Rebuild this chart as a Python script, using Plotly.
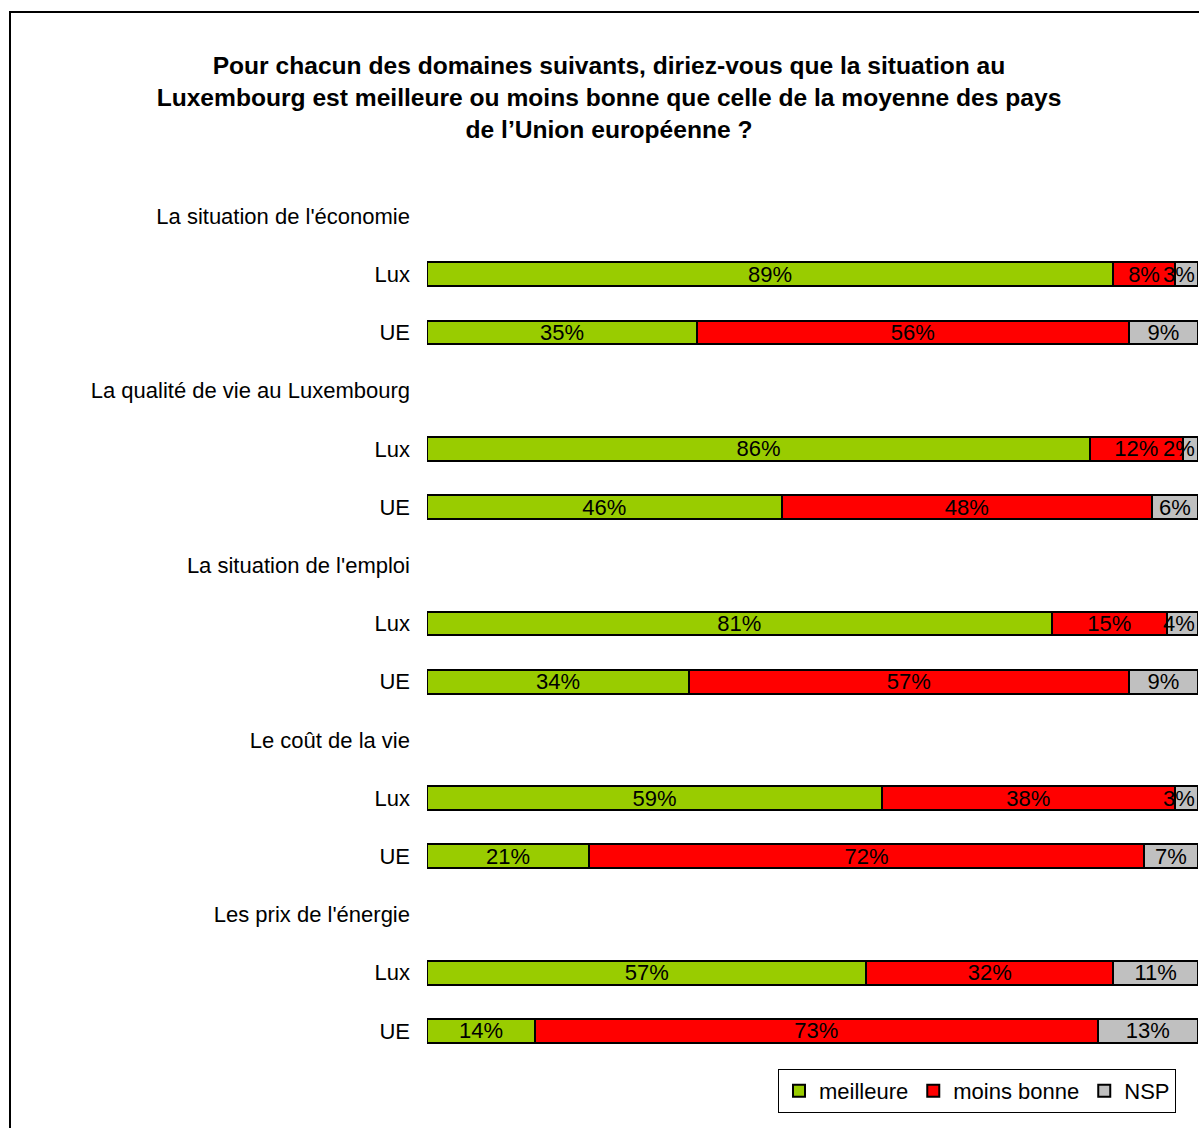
import plotly.graph_objects as go

categories = ["La situation de l'économie", "La qualité de vie au Luxembourg",
              "La situation de l'emploi", "Le coût de la vie", "Les prix de l'énergie"]
groups = ["Lux", "UE"]
meilleure = [89, 35, 86, 46, 81, 34, 59, 21, 57, 14]
moins_bonne = [8, 56, 12, 48, 15, 57, 38, 72, 32, 73]
nsp = [3, 9, 2, 6, 4, 9, 3, 7, 11, 13]
series_names = ["meilleure", "moins bonne", "NSP"]
colors = ["#99CC00", "#FF0000", "#C0C0C0"]

# build row positions: header row then Lux, UE rows
tickvals, ticktext, bar_rows = [], [], []
r = 0
for c in categories:
    tickvals.append(r); ticktext.append(c); r += 1
    for g in groups:
        tickvals.append(r); ticktext.append(g); bar_rows.append(r); r += 1
n_rows = r

FONT = "Liberation Sans, Arial, sans-serif"
NARROW = 4  # segments this small get their label pushed to the bar end

fig = go.Figure()
annotations = []
for name, vals, col in zip(series_names, [meilleure, moins_bonne, nsp], colors):
    is_last = name == series_names[-1]
    texts = []
    for v, yr in zip(vals, bar_rows):
        if is_last and v <= NARROW:
            texts.append("")
            annotations.append(dict(
                x=100, y=yr, xref="x", yref="y", text=f"{v}%", showarrow=False,
                xanchor="right", xshift=-1,
                font=dict(color="black", size=22, family=FONT)))
        else:
            texts.append(f"{v}%")
    fig.add_trace(go.Bar(
        x=vals, y=bar_rows, orientation="h", name=name,
        marker=dict(color=col, line=dict(color="black", width=2)),
        width=0.41,
        text=texts, textposition="inside", textangle=0,
        insidetextanchor="middle", constraintext="none",
        textfont=dict(color="black", size=22, family=FONT),
        cliponaxis=False,
        hoverinfo="x+name",
    ))

L, R, T, B = 427, 1, 187, 68
W, H = 1199, 1128
pw, ph = W - L - R, H - T - B

def px_x(p):
    return (p - L) / pw

def px_y(p):
    return 1 - (p - T) / ph

fig.update_layout(
    barmode="stack",
    width=W, height=H,
    margin=dict(l=L, r=R, t=T, b=B),
    paper_bgcolor="white", plot_bgcolor="white",
    font=dict(family=FONT, size=22, color="black"),
    uniformtext=dict(minsize=22, mode="show"),
    title=dict(
        text="<b>Pour chacun des domaines suivants, diriez-vous que la situation au<br>"
             "Luxembourg est meilleure ou moins bonne que celle de la moyenne des pays<br>"
             "de l’Union européenne ?</b>",
        x=609 / W, xanchor="center", y=1 - 74 / H, yanchor="top",
        font=dict(size=24.6, family=FONT, color="black"),
    ),
    xaxis=dict(range=[0, 100], showgrid=False, showticklabels=False,
               zeroline=False, showline=False, fixedrange=True),
    yaxis=dict(range=[n_rows - 0.5, -0.5], tickvals=tickvals, ticktext=ticktext,
               showgrid=False, zeroline=False, showline=False, ticks="",
               ticklabelstandoff=16, tickfont=dict(size=22)),
    legend=dict(orientation="h", x=px_x(1176), xanchor="right",
                y=px_y(1069), yanchor="top", bordercolor="black", borderwidth=1,
                font=dict(size=22), itemwidth=30, traceorder="normal",
                bgcolor="white"),
    annotations=annotations,
    shapes=[dict(type="rect", xref="paper", yref="paper",
                 x0=px_x(10), x1=px_x(1240), y0=px_y(1160), y1=px_y(12),
                 line=dict(color="black", width=2), fillcolor="rgba(0,0,0,0)",
                 layer="below")],
    bargap=0.5,
)

fig.write_html(
    "out.html",
    config={"displayModeBar": False},
    post_script="document.body.style.margin='0';document.body.style.overflow='hidden';",
)
